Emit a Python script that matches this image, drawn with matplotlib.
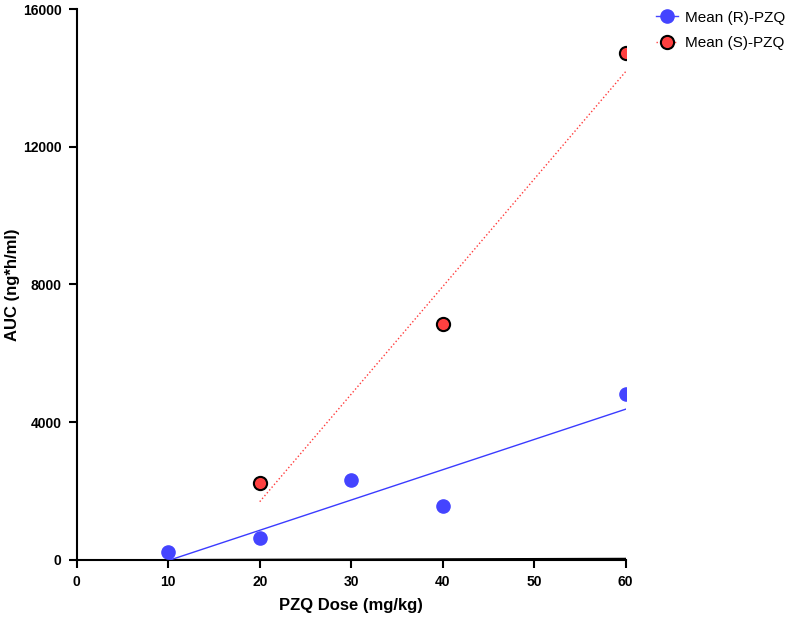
import numpy as np
import matplotlib.pyplot as plt

plt.rcParams['font.family'] = ['Liberation Sans', 'DejaVu Sans']

dose_r = np.array([10, 20, 30, 40, 60])
auc_r = np.array([232, 640, 2325, 1570, 4820])
dose_s = np.array([20, 40, 60])
auc_s = np.array([2236, 6853, 14722])
# near-zero series drawn as black line along the axis
dose_z = np.array([10, 60])
auc_z = np.array([0, 35])

fig = plt.figure(figsize=(8, 6.17), dpi=100)
ax = fig.add_axes([0.096, 0.0924, 0.686, 0.893])

fr = np.polyfit(dose_r, auc_r, 1)
fs = np.polyfit(dose_s, auc_s, 1)
xr = np.linspace(dose_r.min(), dose_r.max(), 100)
xs = np.linspace(dose_s.min(), dose_s.max(), 100)

ax.plot(dose_z, auc_z, '-', color='black', lw=1.5, zorder=2)
ax.plot(xr, np.polyval(fr, xr), '-', color='#3b3bff', lw=1, zorder=3)
ax.plot(xs, np.polyval(fs, xs), ':', color='#ff3b3b', lw=1, zorder=3)
ax.plot(dose_r, auc_r, 'o', color='#4444ff', ms=9.5, mec='#4444ff', zorder=4)
ax.plot(dose_s, auc_s, 'o', color='#ff4040', ms=9.5, mec='black', mew=1.5, zorder=4)

hr, = ax.plot([], [], '-o', color='#4444ff', lw=1, ms=9.5)
hs, = ax.plot([], [], ':o', color='#ff4040', mec='black', mew=1.5, lw=1, ms=9.5)
fig.legend([hr, hs], ['Mean (R)-PZQ', 'Mean (S)-PZQ'], loc='upper left',
           bbox_to_anchor=(0.803, 1.005), frameon=False, fontsize=11,
           handlelength=1.4, handletextpad=0.5, labelspacing=0.75)

ax.set_xlim(0, 60)
ax.set_ylim(0, 16000)
ax.set_xticks([0, 10, 20, 30, 40, 50, 60])
ax.set_yticks([0, 4000, 8000, 12000, 16000])
ax.spines['top'].set_visible(False)
ax.spines['right'].set_visible(False)
ax.spines['left'].set_linewidth(1.5)
ax.spines['bottom'].set_linewidth(1.5)
ax.tick_params(width=1.5, length=6, labelsize=10, pad=5)
for t in ax.get_xticklabels() + ax.get_yticklabels():
    t.set_fontweight('bold')
ax.set_xlabel('PZQ Dose (mg/kg)', fontsize=12, fontweight='bold', labelpad=6)
ax.set_ylabel('AUC (ng*h/ml)', fontsize=12, fontweight='bold', labelpad=2)

plt.savefig('out.png')
plt.close()
